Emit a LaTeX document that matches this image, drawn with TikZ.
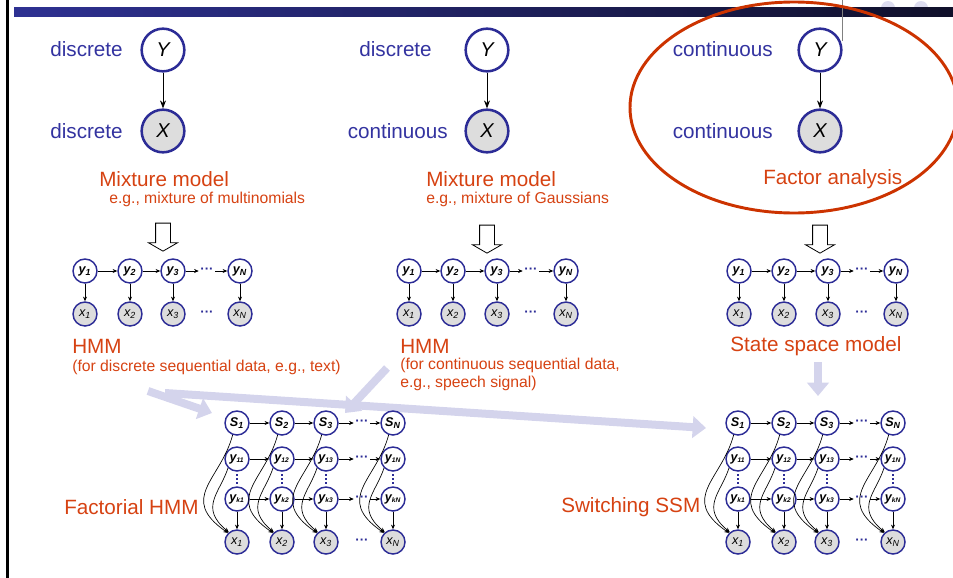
\documentclass[tikz,border=0pt]{standalone}
\usepackage{fontspec}
\setmainfont{Liberation Sans}
\usetikzlibrary{arrows.meta, positioning, shapes.arrows}
\definecolor{slideblue}{RGB}{46,49,146}
\definecolor{slidenavy}{RGB}{16,16,42}
\definecolor{varblue}{RGB}{44,44,150}
\definecolor{labelblue}{RGB}{51,51,160}
\definecolor{titlered}{RGB}{214,66,18}
\definecolor{ringred}{RGB}{204,51,0}
\definecolor{obsgray}{RGB}{221,221,221}
\definecolor{lavender}{RGB}{212,212,236}

\begin{document}
\begin{tikzpicture}[
    x=0.75pt, y=-0.75pt,
    bigvar/.style={circle, draw=varblue, line width=1.9pt, minimum size=32pt, inner sep=0pt,
      fill=white, font=\itshape\fontsize{15}{15}\selectfont},
    bigobs/.style={bigvar, fill=obsgray},
    smallvar/.style={circle, draw=varblue, line width=1.1pt, minimum size=18pt, inner sep=0pt,
      fill=white, font=\bfseries\itshape\fontsize{9.5}{9.5}\selectfont},
    smallobs/.style={smallvar, fill=obsgray, font=\itshape\fontsize{9.5}{9.5}\selectfont},
    hdots/.style={inner sep=1pt, text=varblue, font=\bfseries\fontsize{10}{10}\selectfont},
    vdotline/.style={draw=varblue, line width=1.6pt, dash pattern=on 1.5pt off 1.5pt,
      shorten <=2pt, shorten >=2pt},
    kindlabel/.style={anchor=east, inner sep=0pt, text=labelblue, font=\fontsize{15.5}{18}\selectfont},
    modeltitle/.style={anchor=west, inner sep=0pt, text=titlered, font=\fontsize{15.5}{18}\selectfont},
    modelnote/.style={anchor=west, inner sep=0pt, text=titlered, align=left,
      font=\fontsize{11.8}{13.5}\selectfont},
    link/.style={-{Stealth[length=3.5pt, width=3pt]}, line width=0.5pt},
    biglink/.style={-{Stealth[length=6pt, width=4.5pt]}, line width=0.6pt},
    downblock/.style={single arrow, draw=black, fill=white, line width=0.6pt, rotate=-90,
      minimum height=21pt, inner sep=5.25pt, single arrow head extend=5.25pt,
      single arrow tip angle=120},
    fatarrow/.style={-{Triangle[length=10pt, width=16pt]}, line width=6pt, draw=lavender}
]
\useasboundingbox (0,0) rectangle (953,578);
% slide frame
\fill[lavender!80] (888,8) circle [radius=7] (921,8) circle [radius=7];
\shade[left color=slideblue, right color=slidenavy] (14,7) rectangle (953,16);
\fill[black] (6,0) rectangle (8.5,578);
\draw[gray, line width=0.6pt] (842,0) -- (842,41);

% pale arrows towards the combined models
\coordinate (discTail) at (148,391);
\coordinate (fhmmTipA) at (212,413);
\coordinate (contTail) at (387,368);
\coordinate (fhmmTipB) at (345,413);
\coordinate (longTail) at (165,393);
\coordinate (sssmTipA) at (706,428);
\coordinate (ssmTail) at (818,362);
\coordinate (sssmTipB) at (818,396);
\draw[fatarrow] (discTail) -- (fhmmTipA);
\draw[fatarrow] (contTail) -- (fhmmTipB);
\draw[fatarrow] (longTail) -- (sssmTipA);
\draw[fatarrow] (ssmTail) -- (sssmTipB);

% basic models
\node[bigvar] (Ya) at (163,50) {Y};
\node[bigobs] (Xa) at (163,131) {X};
\node[bigvar] (Yb) at (487,50) {Y};
\node[bigobs] (Xb) at (487,131) {X};
\node[bigvar] (Yc) at (820,50) {Y};
\node[bigobs] (Xc) at (820,131) {X};
\draw[biglink] (Ya) -- (Xa);
\draw[biglink] (Yb) -- (Xb);
\draw[biglink] (Yc) -- (Xc);

\node[kindlabel] (kindYa) at (123,49) {discrete};
\node[kindlabel] (kindXa) at (123,131) {discrete};
\node[kindlabel] (kindYb) at (432,49) {discrete};
\node[kindlabel] (kindXb) at (448,131) {continuous};
\node[kindlabel] (kindYc) at (773,49) {continuous};
\node[kindlabel] (kindXc) at (773,131) {continuous};

\node[modeltitle] (mixA) at (99,179) {Mixture model};
\node[modelnote] (mixAnote) at (109,199) {e.g., mixture of multinomials};
\node[modeltitle] (mixB) at (426,179) {Mixture model};
\node[modelnote] (mixBnote) at (426,199) {e.g., mixture of Gaussians};
\node[modeltitle] (fa) at (763,179) {Factor analysis};
\draw[ringred, line width=2.2pt] (794,107.5) ellipse [x radius=164, y radius=105.5];

\node[downblock] (blockA) at (163,235) {};
\node[downblock] (blockB) at (487,237) {};
\node[downblock] (blockC) at (820,237) {};

% chains
\foreach \c/\pa/\pb/\pc/\pd/\pe in {A/85/130/173/207/240, B/409/453/497/531/566, C/739/784/828/862/896} {
  \foreach \i/\px in {1/\pa, 2/\pb, 3/\pc, N/\pe} {
    \node[smallvar] (\c y\i) at (\px,271) {y\textsubscript{\i}};
    \node[smallobs] (\c x\i) at (\px,314) {x\textsubscript{\i}};
    \draw[link] (\c y\i) -- (\c x\i);
  }
  \node[hdots] (\c dy) at (\pd,271) {···};
  \node[hdots] (\c dx) at (\pd,314) {···};
  \draw[link] (\c y1) -- (\c y2);
  \draw[link] (\c y2) -- (\c y3);
  \draw[link] (\c y3) -- (\c dy);
  \draw[link] (\c dy) -- (\c yN);
}

\node[modeltitle] (hmmA) at (72,346) {HMM};
\node[modelnote] (hmmAnote) at (72,367) {(for discrete sequential data, e.g., text)};
\node[modeltitle] (hmmB) at (400,346) {HMM};
\node[modelnote, anchor=north west] (hmmBnote) at (400,358) {(for continuous sequential data,\\e.g., speech signal)};
\node[modeltitle] (ssm) at (730,346) {State space model};

% factorial HMM and switching SSM
\foreach \g/\pa/\pb/\pc/\pd/\pe in {F/237/282/326/362/393, W/738/784/827/862/893} {
  \foreach \i/\px in {1/\pa, 2/\pb, 3/\pc, N/\pe} {
    \node[smallvar] (\g S\i) at (\px,423) {S\textsubscript{\i}};
    \node[smallvar] (\g u\i) at (\px,459) {y\textsubscript{\fontsize{5}{5}\selectfont 1\i}};
    \node[smallvar] (\g k\i) at (\px,499) {y\textsubscript{\fontsize{5}{5}\selectfont k\i}};
    \node[smallobs] (\g x\i) at (\px,542) {x\textsubscript{\i}};
    \draw[vdotline] (\g u\i) -- (\g k\i);
    \draw[link] (\g k\i) -- (\g x\i);
    \draw[link] (\g S\i.250) .. controls +(-12,45) and +(-50,-35) .. (\g x\i.north west);
    \draw[link] (\g u\i.south west) .. controls +(-8,25) and +(-30,-25) .. (\g x\i.130);
  }
  \foreach \r/\py in {S/423, u/459, k/499} {
    \node[hdots] (\g d\r) at (\pd,\py) {···};
    \draw[link] (\g\r1) -- (\g\r2);
    \draw[link] (\g\r2) -- (\g\r3);
    \draw[link] (\g\r3) -- (\g d\r);
    \draw[link] (\g d\r) -- (\g\r N);
  }
  \node[hdots] (\g dx) at (\pd,542) {···};
}

\node[modeltitle] (fhmm) at (64,507) {Factorial HMM};
\node[modeltitle] (sssm) at (561,507) {Switching SSM};
\end{tikzpicture}
\end{document}
